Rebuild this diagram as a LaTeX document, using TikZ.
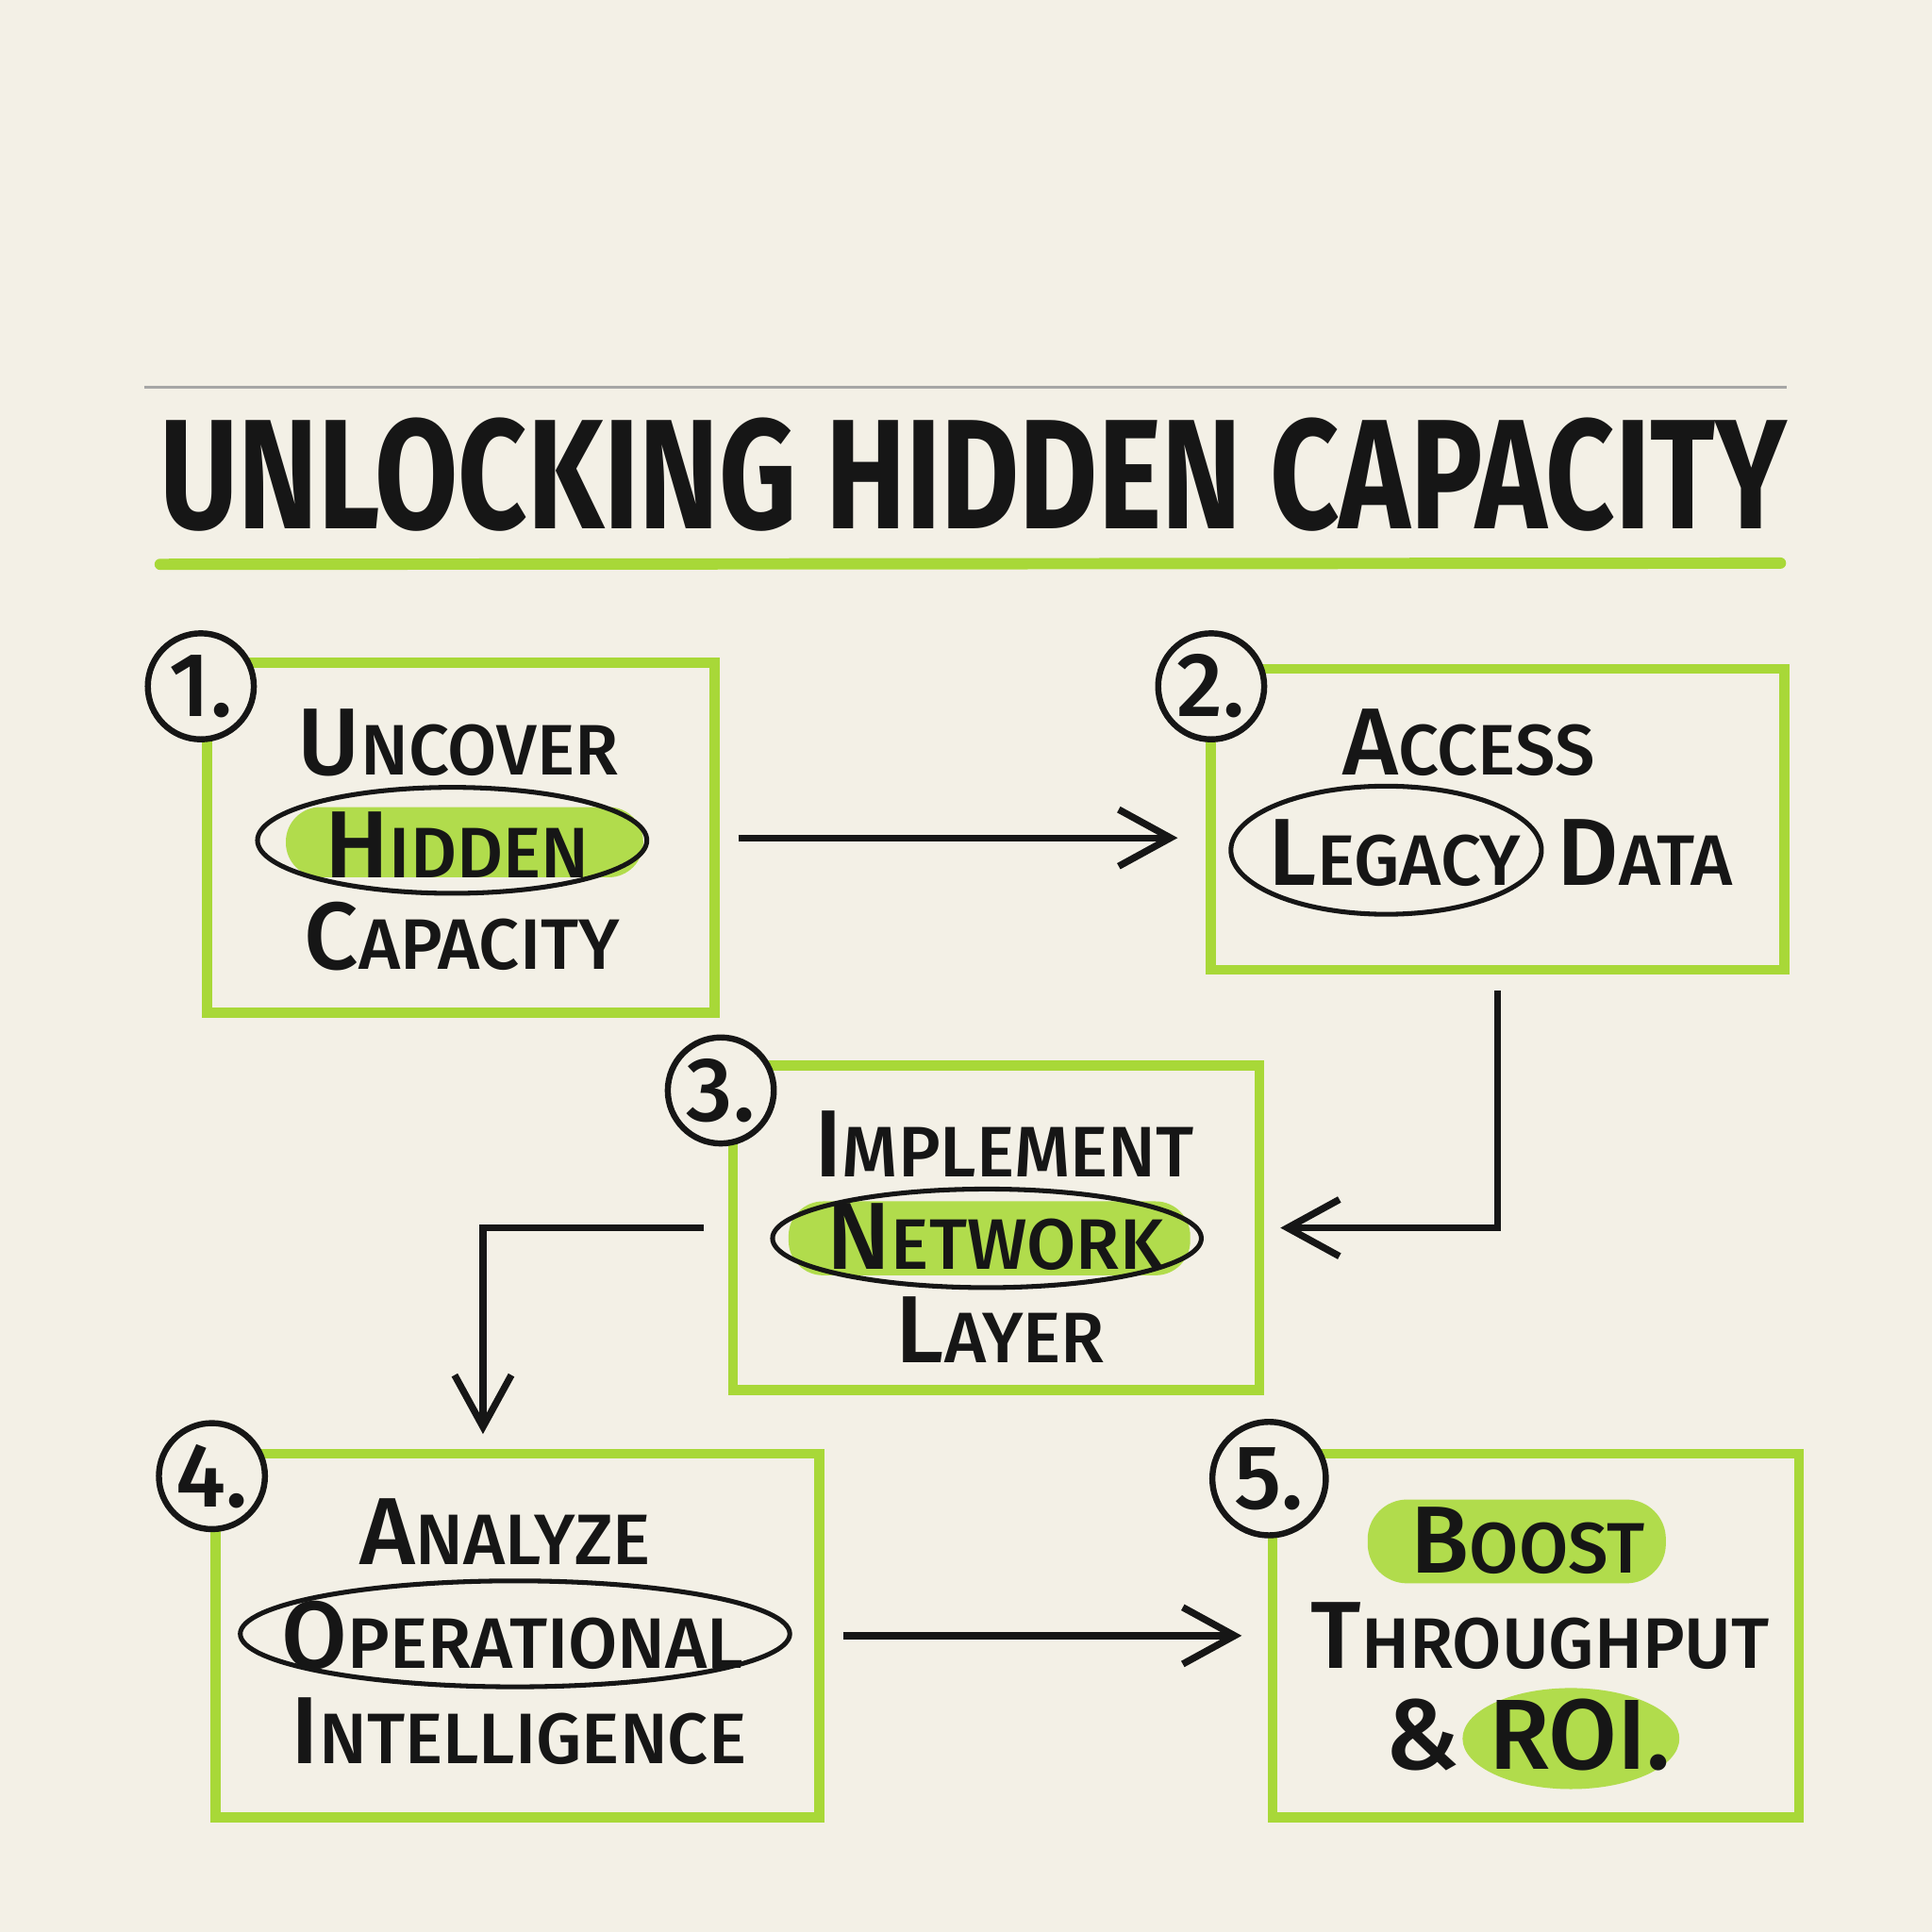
\documentclass[tikz,border=0pt]{standalone}
\usepackage{fontspec}
\setmainfont{Fira Sans}[UprightFont={* Medium}, BoldFont={* Bold}]
\usetikzlibrary{arrows.meta, positioning, shapes.geometric}

\definecolor{paper}{HTML}{F3F0E6}
\definecolor{lime}{HTML}{A8D838}
\definecolor{ink}{HTML}{161616}

% big first letter, smaller caps after it
\newcommand{\bigsc}[2]{{\fontsize{22}{24}\selectfont #1}{\fontsize{16.5}{19}\selectfont #2}}

\begin{document}
\begin{tikzpicture}[x=0.01cm, y=-0.01cm, >={Straight Barb[length=0.42cm, width=0.46cm]},
    stepbox/.style={draw=lime, line width=2.3pt, inner sep=0},
    numcirc/.style={circle, draw=ink, line width=1.4pt, fill=paper, minimum size=0.86cm,
        inner sep=0, text=ink, font=\fontsize{21}{23}\selectfont},
    word/.style={inner sep=0, text=ink},
    ring/.style={draw=ink, line width=1.1pt},
    hilite/.style={fill=lime!90!white},
    flow/.style={->, draw=ink, line width=1.6pt}]

\fill[paper] (0,0) rectangle (1568,1568);

% title
\draw[gray!70, line width=0.6pt] (117,314) -- (1450,314);
\node[word] (title) at (790,385) {\resizebox{13.2cm}{0.9cm}{\bfseries UNLOCKING HIDDEN CAPACITY}};
\draw[lime, line width=2.6pt, line cap=round] (130,458) -- (1445,457);

\begin{scope}
    \node[stepbox, minimum width=4.12cm, minimum height=2.84cm] (box1) at (374,680) {};
    \node[stepbox, minimum width=4.65cm, minimum height=2.44cm] (box2) at (1215.5,665) {};
    \node[stepbox, minimum width=4.27cm, minimum height=2.63cm] (box3) at (808.5,996.5) {};
    \node[stepbox, minimum width=4.90cm, minimum height=2.95cm] (box4) at (420,1327.5) {};
    \node[stepbox, minimum width=4.27cm, minimum height=2.95cm] (box5) at (1246.5,1327.5) {};
\end{scope}

\node[numcirc] (n1) at (163,557) {1.};
\node[numcirc] (n2) at (983,557) {2.};
\node[numcirc] (n3) at (585,885) {3.};
\node[numcirc] (n4) at (172,1198) {4.};
\node[numcirc, minimum size=0.92cm] (n5) at (1030,1200) {5.};

% highlights
\fill[hilite, rounded corners=0.28cm] (232,655) rectangle (522,712);
\fill[hilite, rounded corners=0.28cm] (640,975) rectangle (966,1035);
\fill[hilite, rounded corners=0.32cm] (1110,1217) rectangle (1352,1285);
\fill[hilite] (1275,1411) ellipse [x radius=88, y radius=41];

\node[word] (uncover) at (372,603) {\bigsc{U}{NCOVER}};
\node[word] (hidden) at (371,686) {\bigsc{H}{IDDEN}};
\node[word] (capacity) at (375,760) {\bigsc{C}{APACITY}};

\node[word] (access) at (1192,603) {\bigsc{A}{CCESS}};
\node[word] (legacy) at (1132,692) {\bigsc{L}{EGACY}};
\node[word, right=0.28cm of legacy] (data) {\bigsc{D}{ATA}};

\node[word] (implement) at (815,928) {\bigsc{I}{MPLEMENT}};
\node[word] (network) at (808,1004) {\bigsc{N}{ETWORK}};
\node[word] (layer) at (812,1079) {\bigsc{L}{AYER}};

\node[word] (analyze) at (410,1243) {\bigsc{A}{NALYZE}};
\node[word] (operational) at (416,1327) {\bigsc{O}{PERATIONAL}};
\node[word] (intelligence) at (421,1405) {\bigsc{I}{NTELLIGENCE}};

\node[word] (boost) at (1240,1250) {\bigsc{B}{OOST}};
\node[word] (throughput) at (1250,1328) {\bigsc{T}{HROUGHPUT}};
\node[word, font=\fontsize{23}{25}\selectfont] (roi) at (1282,1408) {ROI.};
\node[word, font=\fontsize{23}{25}\selectfont, left=0.22cm of roi] (amp) {\&};

% rings
\draw[ring] (367,682) ellipse [x radius=158, y radius=43];
\draw[ring] (1125,690) ellipse [x radius=126, y radius=52];
\draw[ring] (801,1005) ellipse [x radius=174, y radius=40];
\draw[ring] (418,1326) ellipse [x radius=223, y radius=43];

\draw[flow, shorten <=0.15cm, shorten >=0.23cm] (box1.east) -- (box1.east -| box2.west);
\draw[flow, shorten <=0.13cm, shorten >=0.13cm] (box2.south) |- (box3.east);
\draw[flow, shorten <=0.2cm, shorten >=0.12cm] (box3.west) -| ([xshift=-0.28cm]box4.north);
\draw[flow, shorten <=0.15cm, shorten >=0.21cm] (box4.east) -- (box4.east -| box5.west);

\end{tikzpicture}
\end{document}
